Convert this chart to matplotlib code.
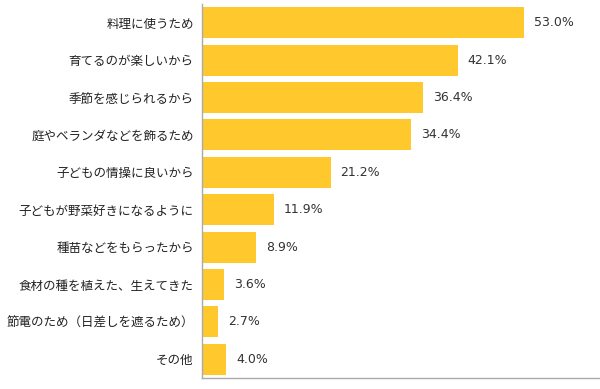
import matplotlib
matplotlib.use('Agg')
import matplotlib.pyplot as plt

plt.rcParams['font.family'] = ['Noto Sans CJK JP', 'DejaVu Sans']

# reasons, top to bottom
labels = ['料理に使うため', '育てるのが楽しいから', '季節を感じられるから',
          '庭やベランダなどを飾るため', '子どもの情操に良いから',
          '子どもが野菜好きになるように', '種苗などをもらったから',
          '食材の種を植えた、生えてきた', '節電のため（日差しを遮るため）', 'その他']
values = [53.0, 42.1, 36.4, 34.4, 21.2, 11.9, 8.9, 3.6, 2.7, 4.0]

fig = plt.figure(figsize=(6, 3.89), dpi=100)
ax = fig.add_axes([202/600, 11/389, 398/600, 374/389])

ypos = list(range(len(values)))[::-1]
ax.barh(ypos, values, height=0.83, color='#FFC82C')

for y, v in zip(ypos, values):
    ax.annotate(f'{v:.1f}%', (v, y), xytext=(7, 0), textcoords='offset points',
                va='center', ha='left', fontsize=9, color='#333333',
                family=['DejaVu Sans'])

ax.set_yticks(ypos)
ax.set_yticklabels(labels, fontsize=9, color='#222222')
ax.tick_params(axis='y', length=0, pad=6)
ax.set_xticks([])
ax.set_xlim(0, 65.5)
ax.set_ylim(-0.5, len(values) - 0.5)

for s in ['top', 'right']:
    ax.spines[s].set_visible(False)
for s in ['left', 'bottom']:
    ax.spines[s].set_color('#aaaaaa')
    ax.spines[s].set_linewidth(1)

fig.savefig('out.png', dpi=100)
